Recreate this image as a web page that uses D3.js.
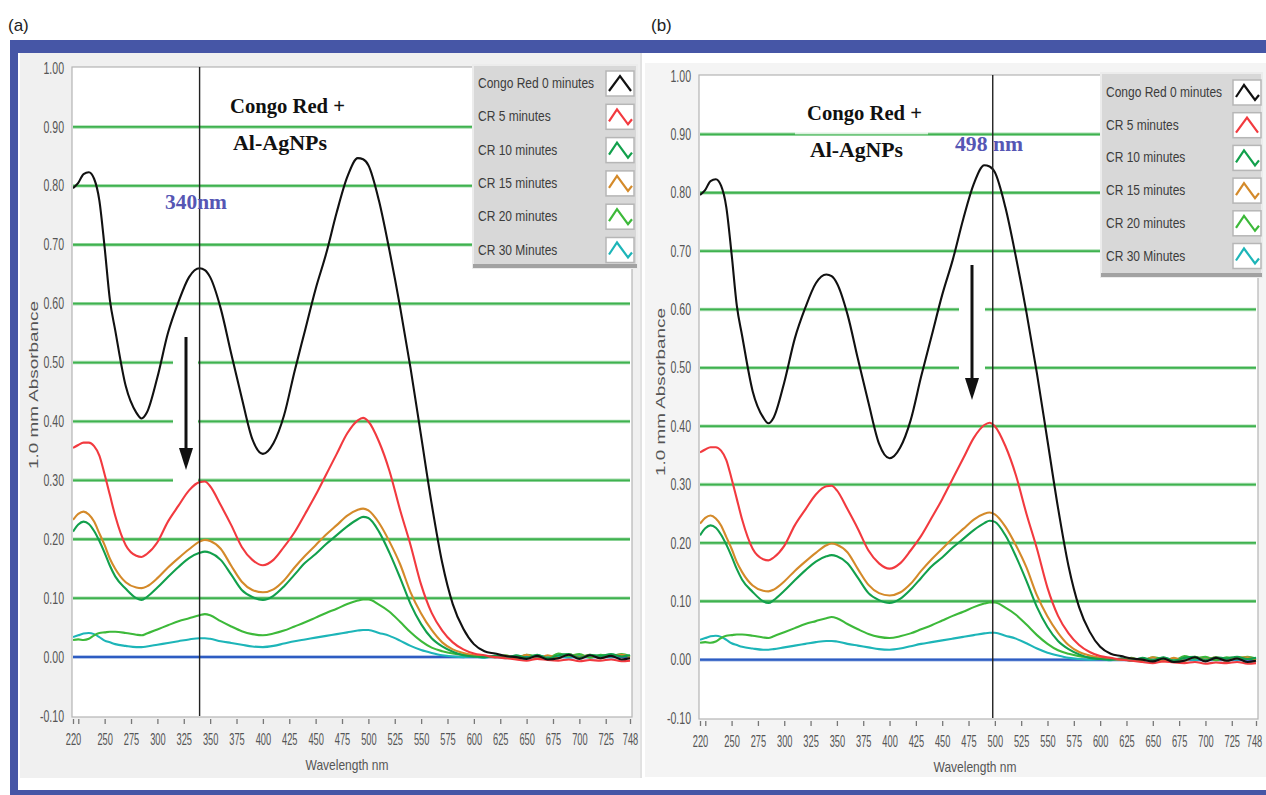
<!DOCTYPE html>
<html>
<head>
<meta charset="utf-8">
<style>
  body { margin: 0; background: #fff; }
  svg { display: block; }
  .narrow { font-family: "Liberation Sans", Arial, sans-serif; }
</style>
</head>
<body>
<svg></svg>
<script src="https://d3js.org/d3.v7.min.js"></script>
<script>
// wavelength grid (nm) shared by every series
const wavelengths = [220, 225, 230, 235, 240, 245, 250, 255,
  260, 270, 280, 285, 290, 300,
  310, 320, 330, 340, 345, 350, 360,
  370, 380, 390, 400, 410, 420, 430, 440, 450, 460,
  470, 480, 490, 495, 500, 510, 520, 530, 540, 550,
  560, 570, 580, 590, 600, 610, 620, 630, 640, 650,
  660, 670, 680, 690, 700, 710, 720, 730, 740, 748];

const cr0 = [0.796, 0.805, 0.82, 0.823, 0.812, 0.775, 0.695, 0.606,
  0.555, 0.46, 0.415, 0.405, 0.415, 0.475,
  0.55, 0.603, 0.645, 0.66, 0.657, 0.645, 0.592,
  0.515, 0.44, 0.37, 0.345, 0.363, 0.41, 0.485, 0.555, 0.625, 0.685,
  0.755, 0.815, 0.847, 0.845, 0.835, 0.775, 0.69, 0.595, 0.49, 0.375,
  0.26, 0.16, 0.09, 0.048, 0.022, 0.01, 0.006, 0.002, 0.0, -0.003,
  0.002, -0.004, -0.002, 0.004, -0.003, 0.003, -0.002, 0.002, -0.004, -0.002];

const cr5 = [0.355, 0.36, 0.364, 0.364, 0.358, 0.342, 0.31, 0.275,
  0.24, 0.19, 0.172, 0.17, 0.175, 0.195,
  0.23, 0.257, 0.283, 0.297, 0.298, 0.29, 0.258,
  0.224, 0.187, 0.165, 0.156, 0.165, 0.187, 0.212, 0.243, 0.275, 0.31,
  0.345, 0.38, 0.402, 0.406, 0.4, 0.366, 0.316, 0.25, 0.19, 0.123,
  0.075, 0.045, 0.025, 0.013, 0.006, 0.003, 0.0, -0.002, -0.004, -0.006,
  -0.003, -0.005, -0.006, -0.004, -0.007, -0.005, -0.006, -0.004, -0.007, -0.006];

const cr10 = [0.213, 0.225, 0.23, 0.226, 0.214, 0.197, 0.177, 0.155,
  0.137, 0.116, 0.1, 0.097, 0.102, 0.118,
  0.136, 0.153, 0.168, 0.177, 0.179, 0.177, 0.165,
  0.14, 0.114, 0.102, 0.097, 0.104, 0.12, 0.14, 0.16, 0.175, 0.192,
  0.207, 0.222, 0.234, 0.238, 0.236, 0.213, 0.177, 0.135, 0.09, 0.056,
  0.032, 0.018, 0.009, 0.003, 0.001, 0.0, 0.002, -0.002, 0.003, -0.001,
  0.004, -0.002, 0.003, 0.005, -0.001, 0.004, 0.002, 0.005, 0.001, 0.003];

const cr15 = [0.233, 0.243, 0.247, 0.242, 0.23, 0.21, 0.19, 0.167,
  0.15, 0.127, 0.118, 0.117, 0.12, 0.134,
  0.152, 0.168, 0.183, 0.196, 0.199, 0.197, 0.184,
  0.155, 0.128, 0.114, 0.11, 0.115, 0.13, 0.152, 0.172, 0.19, 0.208,
  0.224, 0.24, 0.25, 0.252, 0.249, 0.228, 0.196, 0.158, 0.11, 0.074,
  0.046, 0.025, 0.013, 0.007, 0.003, 0.001, 0.0, 0.002, -0.002, 0.004,
  -0.003, 0.003, -0.002, 0.005, 0.0, 0.004, -0.002, 0.003, 0.004, -0.001];

const cr20 = [0.029, 0.03, 0.029, 0.031, 0.037, 0.041, 0.042, 0.043,
  0.043, 0.041, 0.038, 0.037, 0.04, 0.047,
  0.054, 0.061, 0.066, 0.071, 0.073, 0.071, 0.061,
  0.052, 0.044, 0.039, 0.037, 0.04, 0.045, 0.052, 0.059, 0.067, 0.075,
  0.082, 0.09, 0.096, 0.098, 0.098, 0.089, 0.077, 0.06, 0.042, 0.027,
  0.016, 0.01, 0.006, 0.004, 0.002, 0.001, 0.0, 0.003, -0.002, 0.004,
  0.001, -0.002, 0.006, 0.002, 0.005, -0.001, 0.004, 0.002, 0.005, 0.002];

const cr30 = [0.034, 0.037, 0.04, 0.041, 0.039, 0.034, 0.028, 0.025,
  0.022, 0.019, 0.017, 0.017, 0.018, 0.021,
  0.024, 0.027, 0.03, 0.032, 0.032, 0.031, 0.027,
  0.024, 0.021, 0.018, 0.017, 0.019, 0.023, 0.027, 0.03, 0.033, 0.036,
  0.039, 0.042, 0.045, 0.046, 0.046, 0.041, 0.036, 0.028, 0.019, 0.012,
  0.007, 0.003, 0.001, 0.0, 0.001, -0.001, 0.002, 0.0, 0.002, -0.001,
  0.003, 0.0, 0.002, -0.001, 0.003, 0.001, 0.002, 0.0, 0.003, 0.001];

const seriesNames = ["Congo Red 0 minutes", "CR 5 minutes", "CR 10 minutes",
  "CR 15 minutes", "CR 20 minutes", "CR 30 Minutes"];
const seriesValues = [cr0, cr5, cr10, cr15, cr20, cr30];
const seriesColors = ["#111111", "#f23a3f", "#12a04c", "#d48a2a", "#3db93a", "#1db5b8"];

const xTicks = [220, 250, 275, 300, 325, 350, 375, 400, 425, 450, 475, 500,
  525, 550, 575, 600, 625, 650, 675, 700, 725, 748];
const yTicks = [-0.1, 0, 0.1, 0.2, 0.3, 0.4, 0.5, 0.6, 0.7, 0.8, 0.9, 1.0];

const peakA = 340, peakB = 498;

// squeeze text horizontally, the instrument software uses a very narrow face
function squeeze(sel, k) {
  sel.each(function() {
    const w = this.getComputedTextLength();
    d3.select(this).attr("textLength", w * k).attr("lengthAdjust", "spacingAndGlyphs");
  });
}

const svg = d3.select("svg").attr("width", 1266).attr("height", 795);

// outer blue frame
svg.append("rect").attr("width", 1266).attr("height", 795).attr("fill", "#fff");
svg.append("rect").attr("x", 10).attr("y", 40).attr("width", 1256).attr("height", 755).attr("fill", "#4656a6");
svg.append("rect").attr("x", 18).attr("y", 53).attr("width", 1248).attr("height", 737).attr("fill", "#fff");

svg.append("text").attr("x", 8).attr("y", 31).text("(a)")
  .attr("font-family", "Liberation Sans, Arial, sans-serif").attr("font-size", 17).attr("fill", "#222");
svg.append("text").attr("x", 651).attr("y", 31).text("(b)")
  .attr("font-family", "Liberation Sans, Arial, sans-serif").attr("font-size", 17).attr("fill", "#222");

const panels = [
  { bg: [20, 53, 620, 725], bgColor: "#f0f0f0",
    left: 73, right: 630, top: 68, bottom: 716,
    peak: peakA, peakLabel: "340nm", peakLabelPos: [165, 209], peakLabelW: 62,
    title: [[230, 113, "Congo Red +", 115], [233, 150, "Al-AgNPs", 94]],
    arrow: [186, 337, 470], gapVals: [0.5, 0.4, 0.3], gapX: [173, 198],
    legend: { x: 473, y: 65, w: 164, h: 203, row0: 83, dy: 33.3, sw: 606 },
    peakGlyph: 0, lastDx: 0,
    yTitle: [33, 385], xTitle: [347, 770], fade: null },
  { bg: [645, 63, 621, 714], bgColor: "#f4f4f4",
    left: 700, right: 1256, top: 76, bottom: 718,
    peak: peakB, peakLabel: "498 nm", peakLabelPos: [955, 151], peakLabelW: 68,
    title: [[807, 120, "Congo Red +", 115], [810, 157, "Al-AgNPs", 93]],
    arrow: [972, 265, 400], gapVals: [0.6, 0.5], gapX: [959, 985],
    legend: { x: 1101, y: 73, w: 161, h: 204, row0: 92, dy: 32.7, sw: 1233 },
    peakGlyph: 1, lastDx: -2,
    yTitle: [660, 392], xTitle: [975, 772], fade: [795, 928, 0.9] }
];

const tickScale = 0.58;

// separator between the two panels
svg.append("line").attr("x1", 641).attr("x2", 641).attr("y1", 53).attr("y2", 778)
  .attr("stroke", "#c4c4c4").attr("stroke-width", 1);

panels.forEach((p, pi) => {
  const g = svg.append("g");
  g.append("rect").attr("x", p.bg[0]).attr("y", p.bg[1]).attr("width", p.bg[2]).attr("height", p.bg[3])
    .attr("fill", p.bgColor);

  const x = d3.scaleLinear().domain([220, 748]).range([p.left, p.right]);
  const y = d3.scaleLinear().domain([-0.1, 1.0]).range([p.bottom, p.top]);

  // plot area
  g.append("rect").attr("x", p.left - 1).attr("y", p.top - 1)
    .attr("width", p.right - p.left + 3).attr("height", p.bottom - p.top + 2)
    .attr("fill", "#fff").attr("stroke", "#b4b4b4").attr("stroke-width", 1.2);

  const clipId = "clip" + pi;
  g.append("clipPath").attr("id", clipId).append("rect")
    .attr("x", p.left).attr("y", p.top).attr("width", p.right - p.left + 1).attr("height", p.bottom - p.top);

  // green horizontal grid lines
  const grid = g.append("g");
  yTicks.filter(v => v > 0.05 && v < 0.95).forEach(v => {
    const segs = p.gapVals.includes(v)
      ? [[p.left, p.gapX[0]], [p.gapX[1], p.right]]
      : [[p.left, p.right]];
    segs.forEach(s => {
      grid.append("line").attr("x1", s[0]).attr("x2", s[1]).attr("y1", y(v)).attr("y2", y(v))
        .attr("stroke", "#a6dcae").attr("stroke-width", 3.5);
      grid.append("line").attr("x1", s[0]).attr("x2", s[1]).attr("y1", y(v)).attr("y2", y(v))
        .attr("stroke", "#3fb24f").attr("stroke-width", 1.8);
    });
  });
  if (p.fade) {
    grid.append("rect").attr("x", p.fade[0]).attr("y", y(p.fade[2]) - 2.2)
      .attr("width", p.fade[1] - p.fade[0]).attr("height", 2.2).attr("fill", "#fff").attr("opacity", 0.75);
  }

  // zero line
  g.append("line").attr("x1", p.left).attr("x2", p.right).attr("y1", y(0)).attr("y2", y(0))
    .attr("stroke", "#9db5e4").attr("stroke-width", 3.5);
  g.append("line").attr("x1", p.left).attr("x2", p.right).attr("y1", y(0)).attr("y2", y(0))
    .attr("stroke", "#2d5cc2").attr("stroke-width", 2);

  // spectra, drawn back to front so the 0 min curve is on top
  const line = d3.line()
    .x(d => x(d[0]))
    .y(d => y(d[1]))
    .curve(d3.curveMonotoneX);
  const curves = g.append("g").attr("clip-path", "url(#" + clipId + ")");
  d3.range(seriesValues.length).reverse().forEach(si => {
    const pts = wavelengths.map((w, i) => [w, seriesValues[si][i]]);
    curves.append("path").datum(pts).attr("d", line)
      .attr("fill", "none").attr("stroke", seriesColors[si])
      .attr("stroke-width", 2.1).attr("stroke-linejoin", "round");
  });

  // peak marker
  g.append("line").attr("x1", x(p.peak)).attr("x2", x(p.peak)).attr("y1", p.top - 1).attr("y2", p.bottom)
    .attr("stroke", "#222").attr("stroke-width", 1.4);

  // arrow
  const a = p.arrow;
  g.append("line").attr("x1", a[0]).attr("x2", a[0]).attr("y1", a[1]).attr("y2", a[2] - 18)
    .attr("stroke", "#111").attr("stroke-width", 3);
  g.append("path").attr("d", `M${a[0] - 7},${a[2] - 22}L${a[0] + 7},${a[2] - 22}L${a[0]},${a[2]}Z`)
    .attr("fill", "#111");

  // annotations
  p.title.forEach(t => {
    g.append("text").attr("x", t[0]).attr("y", t[1]).text(t[2])
      .attr("font-family", "Liberation Serif, Times New Roman, serif").attr("font-weight", "bold")
      .attr("font-size", 22).attr("fill", "#111")
      .attr("textLength", t[3]).attr("lengthAdjust", "spacingAndGlyphs");
  });
  g.append("text").attr("x", p.peakLabelPos[0]).attr("y", p.peakLabelPos[1]).text(p.peakLabel)
    .attr("font-family", "Liberation Serif, Times New Roman, serif").attr("font-weight", "bold")
    .attr("font-size", 21).attr("fill", "#5656b4")
    .attr("textLength", p.peakLabelW).attr("lengthAdjust", "spacingAndGlyphs");

  // axes
  const xAxis = d3.axisBottom(x).tickValues(xTicks.concat([225])).tickSize(5)
    .tickFormat(d => d === 225 ? "" : d);
  const xg = g.append("g").attr("transform", `translate(0,${p.bottom + 3})`).call(xAxis);
  xg.select(".domain").remove();
  xg.selectAll(".tick line").attr("stroke", "#777").attr("stroke-width", 1.3);
  xg.selectAll(".tick text").attr("class", "narrow").attr("y", 15).attr("font-size", 16)
    .attr("fill", "#555")
    .attr("dx", d => d === 748 ? p.lastDx / tickScale : 0)
    .attr("transform", `scale(${tickScale},1)`);

  const yAxis = d3.axisLeft(y).tickValues(yTicks).tickSize(0).tickPadding(9)
    .tickFormat(d => d.toFixed(2));
  const yg = g.append("g").attr("transform", `translate(${p.left},0)`).call(yAxis);
  yg.select(".domain").remove();
  yg.selectAll(".tick text").attr("class", "narrow").attr("font-size", 16).attr("fill", "#555")
    .call(squeeze, 0.66);

  g.append("text").attr("class", "narrow")
    .attr("x", p.xTitle[0]).attr("y", p.xTitle[1]).attr("text-anchor", "middle")
    .attr("font-size", 15).attr("fill", "#555").text("Wavelength nm").call(squeeze, 0.8);
  g.append("text")
    .attr("transform", `translate(${p.yTitle[0]},${p.yTitle[1]}) rotate(-90)`)
    .attr("text-anchor", "middle").attr("dy", "0.35em")
    .attr("font-family", "Liberation Sans, Arial, sans-serif").attr("font-size", 13).attr("fill", "#555")
    .attr("textLength", 168).attr("lengthAdjust", "spacingAndGlyphs")
    .text("1.0 mm Absorbance");

  // legend
  const L = p.legend;
  const lg = g.append("g");
  lg.append("rect").attr("x", L.x).attr("y", L.y).attr("width", L.w).attr("height", L.h)
    .attr("fill", "#d8d8d8").attr("stroke", "#ececec").attr("stroke-width", 2);
  lg.append("rect").attr("x", L.x).attr("y", L.y + L.h - 4).attr("width", L.w).attr("height", 4)
    .attr("fill", "#a2a2a2");
  seriesNames.forEach((name, i) => {
    const cy = L.row0 + i * L.dy;
    lg.append("text").attr("class", "narrow").attr("x", L.x + 5).attr("y", cy + 5)
      .attr("font-size", 15).attr("fill", "#3c3c3c").text(name).call(squeeze, 0.8);
    lg.append("rect").attr("x", L.sw).attr("y", cy - 12).attr("width", 28).attr("height", 25)
      .attr("fill", "#fff").attr("stroke", "#b6b6b6").attr("stroke-width", 1.5);
    const glyph = i === p.peakGlyph
      ? [[3, 20], [14, 5], [25, 20]]
      : [[3, 17], [11, 5], [22, 20], [26, 15]];
    lg.append("polyline")
      .attr("points", glyph.map(q => [L.sw + q[0], cy - 12 + q[1]].join(",")).join(" "))
      .attr("fill", "none").attr("stroke", seriesColors[i]).attr("stroke-width", 2.2);
  });
});
</script>
</body>
</html>
